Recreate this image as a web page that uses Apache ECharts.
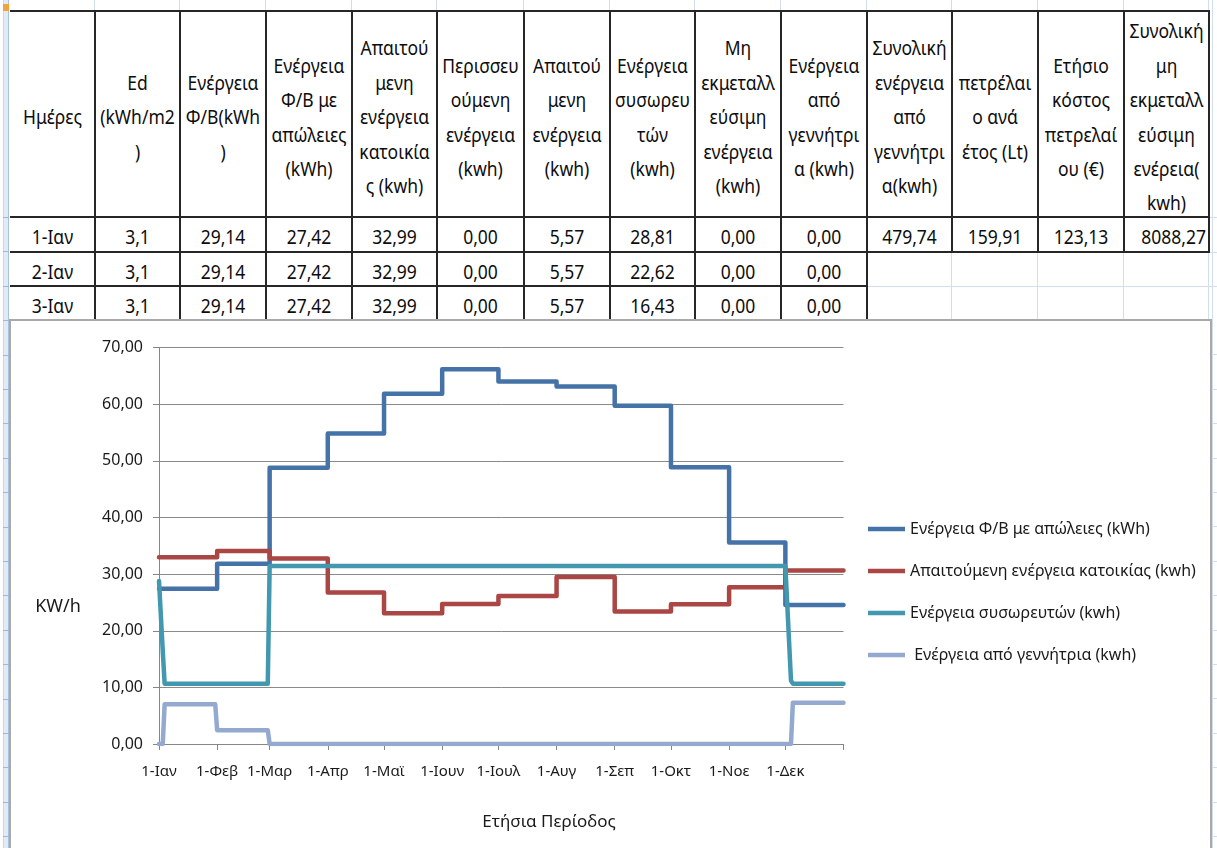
<!DOCTYPE html>
<html>
<head>
<meta charset="utf-8">
<title>Ενεργειακό ισοζύγιο</title>
<script src="https://cdn.jsdelivr.net/npm/echarts@6/dist/echarts.min.js"></script>
<style>
  html, body { margin: 0; padding: 0; width: 1217px; height: 848px; overflow: hidden; background: #fff; font-family: 'Noto Sans', sans-serif; }
  #sheet { position: absolute; left: 0; top: 0; width: 1217px; height: 848px; }
  .ln { position: absolute; }
  .cell { position: absolute; display: flex; flex-direction: column; justify-content: center; align-items: center; font-size: 17.5px; color: #0d0d0d; white-space: nowrap; box-sizing: border-box; }
  .cell span { display: block; transform: scaleY(1.12); }
  .hdr { line-height: 34.4px; padding-top: 5px; }
  .num { padding-top: 3px; }
  .right { align-items: flex-end; padding-right: 3px; }
  #chart { position: absolute; left: 9px; top: 320px; width: 1202px; height: 528px; background: #fff; }
  #frame { position: absolute; left: 9px; top: 319px; width: 1203px; height: 540px; box-sizing: border-box; border: 2px solid #a9a9a9; pointer-events: none; }
</style>
</head>
<body>
<div id="sheet"></div>
<div id="chart"></div>
<div id="frame"></div>
<script>
// ---- chart data ----
const monthLabels = ['1-Ιαν', '1-Φεβ', '1-Μαρ', '1-Απρ', '1-Μαϊ', '1-Ιουν', '1-Ιουλ', '1-Αυγ', '1-Σεπ', '1-Οκτ', '1-Νοε', '1-Δεκ'];
const monthStartDays = [0, 31, 59, 90, 120, 151, 181, 212, 243, 273, 304, 334];
const yearEndDay = 365;

// daily PV energy after losses, one value per month (kWh)
const pvWithLosses = [27.42, 31.85, 48.8, 54.85, 61.85, 66.2, 64.05, 63.15, 59.75, 48.9, 35.6, 24.55];
// daily household demand, one value per month (kWh)
const houseDemand = [32.99, 34.1, 32.75, 26.75, 23.1, 24.75, 26.15, 29.5, 23.4, 24.7, 27.7, 30.65];

// battery energy: first days of January, then the later change points [day, kWh]
const storageFirstDays = [28.81, 22.62, 16.43];
const storageLaterPoints = [[3, 10.65], [58, 10.65], [59, 31.45], [334, 31.45], [335, 24.7], [336, 17.95], [337, 11.2], [338, 10.65], [365, 10.65]];
// generator energy change points [day, kWh]
const generatorPoints = [[0, 0], [2, 0], [3, 7.0], [30, 7.0], [31, 2.45], [58, 2.45], [59, 0], [337, 0], [338, 7.3], [365, 7.3]];

const seriesNames = [
  'Ενέργεια Φ/Β με απώλειες (kWh)',
  'Απαιτούμενη ενέργεια κατοικίας (kwh)',
  'Ενέργεια συσωρευτών (kwh)',
  ' Ενέργεια από γεννήτρια (kwh)'
];

// ---- sheet data ----
const tableHeaders = [
  ['Ημέρες'],
  ['Ed', '(kWh/m2', ')'],
  ['Ενέργεια', 'Φ/Β(kWh', ')'],
  ['Ενέργεια', 'Φ/Β με', 'απώλειες', '(kWh)'],
  ['Απαιτού', 'μενη', 'ενέργεια', 'κατοικία', 'ς (kwh)'],
  ['Περισσευ', 'ούμενη', 'ενέργεια', '(kwh)'],
  ['Απαιτού', 'μενη', 'ενέργεια', '(kwh)'],
  ['Ενέργεια', 'συσωρευ', 'τών', '(kwh)'],
  ['Μη', 'εκμεταλλ', 'εύσιμη', 'ενέργεια', '(kwh)'],
  ['Ενέργεια', 'από', 'γεννήτρι', 'α (kwh)'],
  ['Συνολική', 'ενέργεια', 'από', 'γεννήτρι', 'α(kwh)'],
  ['πετρέλαι', 'ο ανά', 'έτος (Lt)'],
  ['Ετήσιο', 'κόστος', 'πετρελαί', 'ου (€)'],
  ['Συνολική', 'μη', 'εκμεταλλ', 'εύσιμη', 'ενέρεια(', 'kwh)']
];
const tableDays = ['1-Ιαν', '2-Ιαν', '3-Ιαν'];
const edDaily = [3.1, 3.1, 3.1];
const pvDaily = [29.14, 29.14, 29.14];
const surplusDaily = [0, 0, 0];
const deficitDaily = [5.57, 5.57, 5.57];
const unusedDaily = [0, 0, 0];
const generatorDaily = [0, 0, 0];
const yearTotals = [479.74, 159.91, 123.13, 8088.27];

// ---- sheet drawing ----
const sheet = document.getElementById('sheet');
const colX = [10, 95, 180, 266, 352, 437, 524, 610, 695, 781, 867, 952, 1038, 1124, 1209];
const rowY = [11, 217, 252, 286, 320];
const dark = '#262626';
const pale = '#d3deed';

function rect(x, y, w, h, color) {
  const d = document.createElement('div');
  d.className = 'ln';
  d.style.cssText = `left:${x}px;top:${y}px;width:${w}px;height:${h}px;background:${color}`;
  sheet.appendChild(d);
}
function cell(x0, x1, y0, y1, lines, cls) {
  const d = document.createElement('div');
  d.className = 'cell ' + (cls || '');
  d.style.left = x0 + 'px'; d.style.top = y0 + 'px';
  d.style.width = (x1 - x0) + 'px'; d.style.height = (y1 - y0) + 'px';
  lines.forEach(t => { const s = document.createElement('span'); s.textContent = t; d.appendChild(s); });
  sheet.appendChild(d);
}
const fmt2 = v => v.toFixed(2).replace('.', ',');
const fmt1 = v => String(v).replace('.', ',');

// spreadsheet gridlines around the table
rect(3, 0, 6, 848, '#e2eaf5');
rect(3, 0, 1, 848, '#cbd9ec');
rect(8, 0, 1, 848, '#a9c0de');
rect(3, 4, 6, 7, '#f2a33a');
for (let y = 217; y < 848; y += 34.4) rect(3, Math.round(y), 6, 1, '#9fb7d8');
colX.slice(1).forEach(x => rect(x - 1, 0, 1, 11, pale));
rect(1212, 0, 1, 848, pale);
rect(1209, 217, 8, 1, pale);
rect(1209, 252, 8, 1, pale);
rect(867, 286, 350, 1, pale);
[952, 1038, 1124, 1209].forEach(x => rect(x - 1, 252, 1, 68, pale));
for (let y = 354.4; y < 848; y += 34.4) rect(1212, Math.round(y), 5, 1, pale);

// header cells
tableHeaders.forEach((lines, c) => cell(colX[c], colX[c + 1], rowY[0], rowY[1], lines, 'hdr'));

// data rows
tableDays.forEach((day, r) => {
  const vals = [day, fmt1(edDaily[r]), fmt2(pvDaily[r]), fmt2(pvWithLosses[0]), fmt2(houseDemand[0]),
    fmt2(surplusDaily[r]), fmt2(deficitDaily[r]), fmt2(storageFirstDays[r]), fmt2(unusedDaily[r]), fmt2(generatorDaily[r])];
  if (r === 0) yearTotals.forEach(v => vals.push(fmt2(v)));
  vals.forEach((t, c) => cell(colX[c], colX[c + 1], rowY[r + 1], rowY[r + 2], [t], c === 13 ? 'num right' : 'num'));
});

// table borders
rect(10, 10, 1200, 2, dark);
rect(10, 216, 1200, 2, dark);
rect(10, 251, 1200, 2, dark);
rect(10, 285, 858, 2, dark);
colX.slice(1, 11).forEach(x => rect(x - 1, 10, 2, 310, dark));
colX.slice(11).forEach(x => rect(x - 1, 10, 2, 243, dark));

// ---- chart ----
const monthly = vals => monthStartDays.map((d, i) => [d, vals[i]]).concat([[yearEndDay, vals[vals.length - 1]]]);
const storageLevel = storageFirstDays.map((v, i) => [i, v]).concat(storageLaterPoints);
const colors = ['#4572A7', '#AA4643', '#4198AF', '#93A9CF'];

function lineSeries(name, data, color, step) {
  return {
    name, type: 'line', data, step: step ? 'end' : false,
    showSymbol: false, symbol: 'none', silent: true,
    lineStyle: { color, width: 4.5, join: 'round', cap: 'round' },
    itemStyle: { color },
    emphasis: { disabled: true }
  };
}

const chart = echarts.init(document.getElementById('chart'), null, { renderer: 'canvas' });
chart.setOption({
  animation: false,
  textStyle: { fontFamily: 'Noto Sans' },
  grid: { left: 150, top: 27.7, width: 684.5, height: 396.3 },
  xAxis: {
    type: 'value', min: 0, max: yearEndDay,
    axisLine: { show: true, lineStyle: { color: '#868686', width: 1 } },
    axisTick: { show: true, length: 6, customValues: monthStartDays.concat([yearEndDay]), lineStyle: { color: '#868686' } },
    axisLabel: {
      customValues: monthStartDays,
      formatter: v => monthLabels[monthStartDays.indexOf(v)],
      color: '#1a1a1a', fontSize: 15, margin: 20
    },
    splitLine: { show: false }
  },
  yAxis: {
    type: 'value', min: 0, max: 70, interval: 10,
    axisLine: { show: true, lineStyle: { color: '#868686', width: 1 } },
    axisTick: { show: true, length: 6, lineStyle: { color: '#868686' } },
    axisLabel: { formatter: v => fmt2(v), color: '#1a1a1a', fontSize: 16, margin: 16 },
    splitLine: { show: true, lineStyle: { color: '#8a8a8a', width: 1 } }
  },
  legend: {
    orient: 'vertical', left: 859, top: 199, padding: 0,
    itemWidth: 37, itemHeight: 4.5, itemGap: 22, icon: 'rect',
    selectedMode: false,
    textStyle: { fontSize: 16, color: '#1a1a1a', lineHeight: 20 },
    data: seriesNames
  },
  graphic: [
    { type: 'text', x: 49, y: 287, silent: true,
      style: { text: 'KW/h', fontSize: 18, fill: '#1a1a1a', fontFamily: 'Noto Sans', align: 'center', verticalAlign: 'middle' } },
    { type: 'text', x: 540, y: 502, silent: true,
      style: { text: 'Ετήσια Περίοδος', fontSize: 17, fill: '#1a1a1a', fontFamily: 'Noto Sans', align: 'center', verticalAlign: 'middle' } }
  ],
  series: [
    lineSeries(seriesNames[0], monthly(pvWithLosses), colors[0], true),
    lineSeries(seriesNames[1], monthly(houseDemand), colors[1], true),
    lineSeries(seriesNames[2], storageLevel, colors[2], false),
    lineSeries(seriesNames[3], generatorPoints, colors[3], false)
  ]
});
</script>
</body>
</html>
